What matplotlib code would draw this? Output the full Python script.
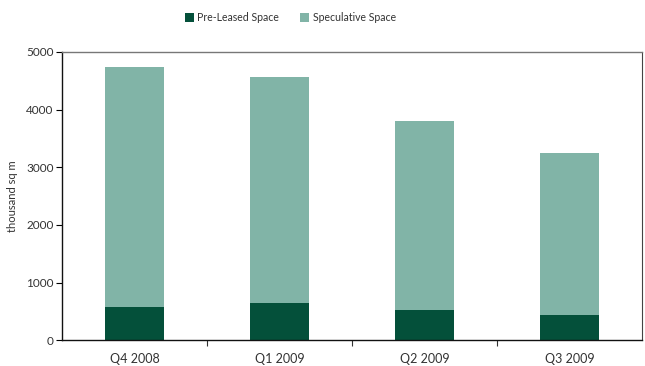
import matplotlib
matplotlib.use("Agg")
import matplotlib.pyplot as plt
import numpy as np

quarters = ["Q4 2008", "Q1 2009", "Q2 2009", "Q3 2009"]
pre_leased = [580, 650, 525, 440]
speculative = [4160, 3915, 3280, 2810]

dark_green = "#04503A"
light_green = "#81B4A7"

plt.rcParams["font.family"] = ["Lato", "DejaVu Sans"]

fig = plt.figure(figsize=(6.45, 3.66), dpi=100)
ax = fig.add_axes([0.0961, 0.0702, 0.8992, 0.7878])

x = np.arange(len(quarters))
ax.bar(x, pre_leased, width=0.41, color=dark_green, label="Pre-Leased Space", zorder=2)
ax.bar(x, speculative, width=0.41, bottom=pre_leased, color=light_green,
       label="Speculative Space", zorder=2)

ax.set_xlim(-0.5, len(quarters) - 0.5)
ax.set_ylim(0, 5000)
ax.set_yticks(range(0, 5001, 1000))
ax.set_xticks(x)
ax.set_xticklabels(quarters)
ax.set_xticks(np.arange(0.5, len(quarters) - 0.5, 1), minor=True)
ax.tick_params(axis="x", which="major", length=0, pad=9, labelsize=9, labelcolor="#333333")
ax.tick_params(axis="x", which="minor", length=4, width=0.8, color="#333333", direction="out")
ax.tick_params(axis="y", length=4, width=0.8, labelsize=8.5, labelcolor="#333333", pad=2)

ax.set_ylabel("thousand sq m", fontsize=8, color="#333333", labelpad=6)

for side in ["left", "bottom"]:
    ax.spines[side].set_color("#111111")
    ax.spines[side].set_linewidth(1.0)
ax.spines["top"].set_color("#777777")
ax.spines["top"].set_linewidth(1.0)
ax.spines["right"].set_color("#444444")
ax.spines["right"].set_linewidth(0.8)

fig.legend(loc="upper center", bbox_to_anchor=(0.45, 0.993), ncol=2, frameon=False,
           fontsize=7.6, handlelength=0.85, handleheight=0.85, handletextpad=0.35,
           columnspacing=2.0, labelcolor="#333333")

fig.savefig("out.png", dpi=100)
